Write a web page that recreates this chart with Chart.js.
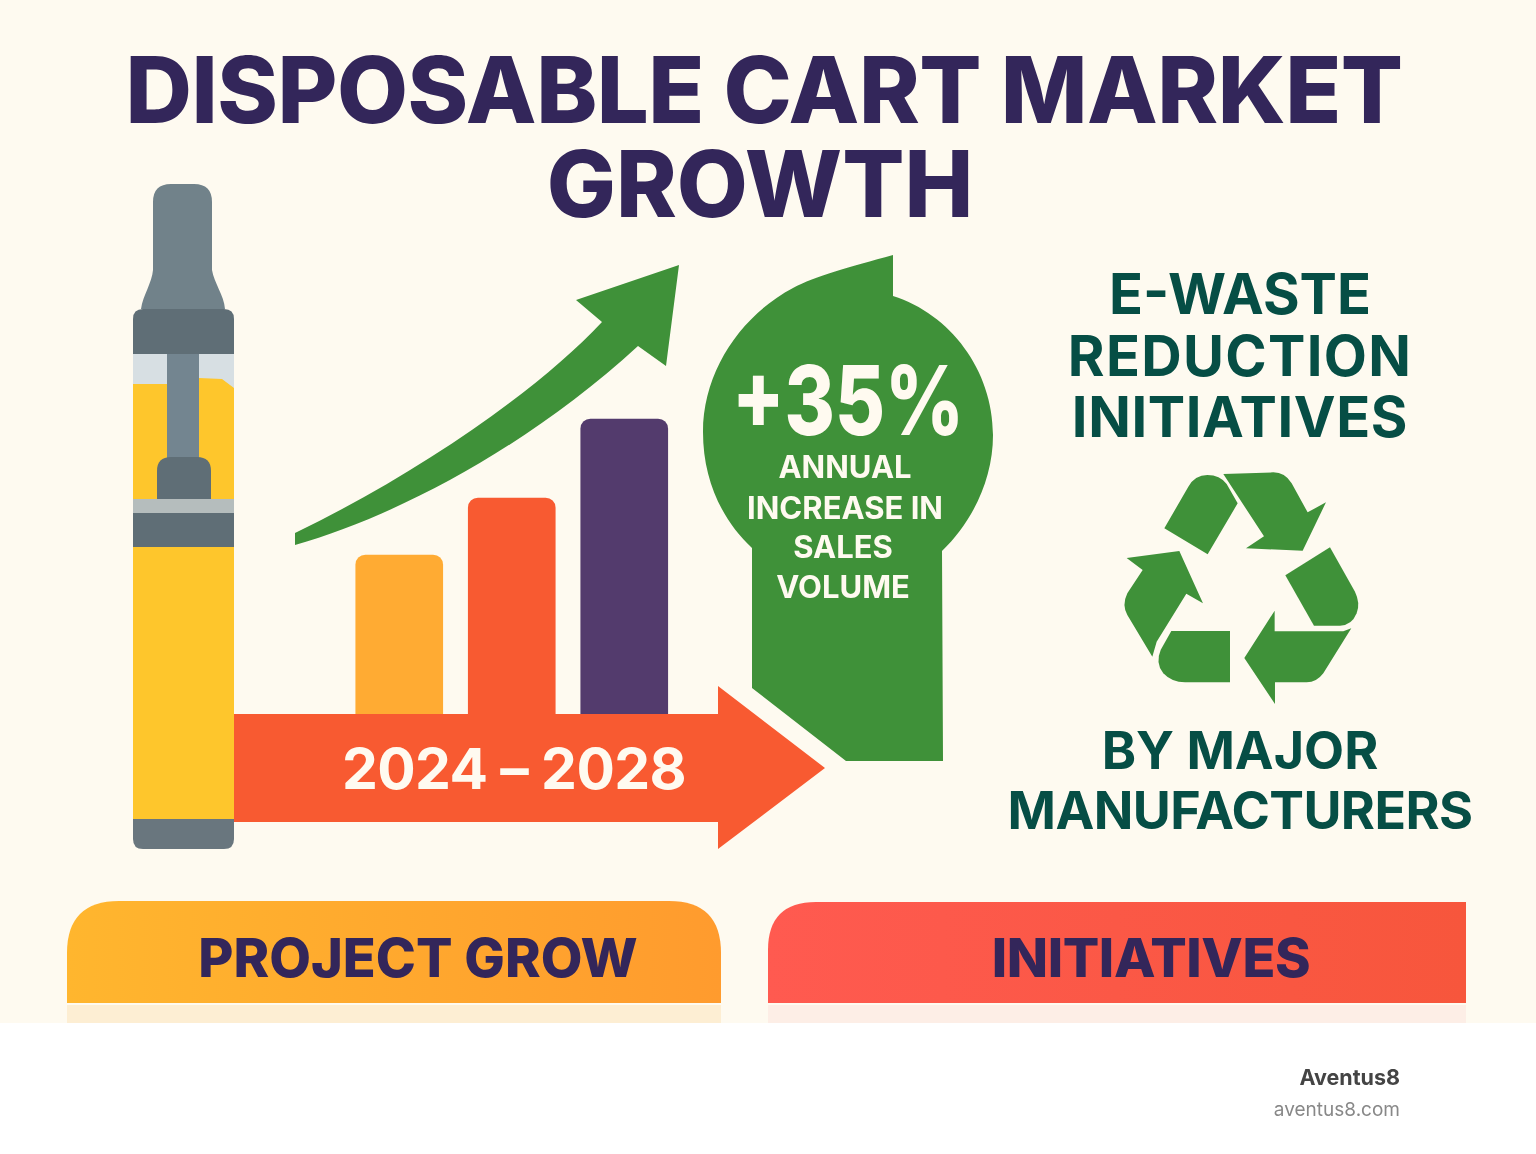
<!DOCTYPE html>
<html>
<head>
<meta charset="utf-8">
<title>Disposable Cart Market Growth</title>
<script src="https://cdn.jsdelivr.net/npm/chart.js@4"></script>
<style>
  html, body { margin: 0; padding: 0; background: #fff; }
  #page { position: relative; width: 1536px; height: 1154px; overflow: hidden; background: #fff; font-family: Inter, sans-serif; }
  #art, #bars { position: absolute; left: 0; top: 0; }
  .t { position: absolute; white-space: nowrap; text-align: center; width: 1000px; line-height: 1; }
  .title { font-size: 92px; font-weight: 800; color: #33265a; width: 1500px; }
  .teal { font-size: 56px; font-weight: 700; color: #064e45; }
  .side { font-size: 31px; font-weight: 700; color: #fffaf0; }
  .panel { font-size: 54px; font-weight: 800; color: #33265a; }
  .foot { left: auto; right: 136px; width: auto; text-align: right; }
</style>
</head>
<body>
<div id="page">
  <svg id="art" width="1536" height="1154" viewBox="0 0 1536 1154">
    <defs>
      <linearGradient id="orange" x1="0" x2="1" y1="0" y2="0"><stop offset="0" stop-color="#ffb62e"/><stop offset="1" stop-color="#ff9b2e"/></linearGradient>
      <linearGradient id="coral" x1="0" x2="1" y1="0" y2="0"><stop offset="0" stop-color="#ff5a50"/><stop offset="1" stop-color="#f7563c"/></linearGradient>
    </defs>
    <rect width="1536" height="1023" fill="#fefaf0"/>

    <!-- cart -->
    <path d="M153,202 Q153,184 171,184 L194,184 Q212,184 212,202 L212,270 C214,283 224,295 225,309 L141,309 C143,295 152,283 153,270 Z" fill="#71828a"/>
    <rect x="133" y="354" width="101" height="470" fill="#fec62c"/>
    <path d="M133,354 L234,354 L234,388 L222,379 L199,378 L167,384 L133,384 Z" fill="#d7dfe3"/>
    <path d="M133,354 L133,319 Q133,309 143,309 L224,309 Q234,309 234,319 L234,354 Z" fill="#5f6e76"/>
    <rect x="167" y="354" width="32" height="104" fill="#738590"/>
    <path d="M157,499 L157,471 Q157,457 171,457 L197,457 Q211,457 211,471 L211,499 Z" fill="#5f6e76"/>
    <rect x="133" y="499" width="101" height="14" fill="#b5bdbd"/>
    <rect x="133" y="513" width="101" height="34" fill="#5f6e76"/>
    <path d="M133,819 L234,819 L234,839 Q234,849 224,849 L143,849 Q133,849 133,839 Z" fill="#69767e"/>

    <!-- timeline arrow -->
    <path d="M234,714 L718,714 L718,686 L825,768 L718,849 L718,822 L234,822 Z" fill="#f85a31"/>

    <!-- growth arrow -->
    <path d="M679,265 L576,300 L602,322 C540,388 425,470 295,533 L295,545 C400,515 530,445 638,346 L666,366 Z" fill="#3f9139"/>

    <!-- callout -->
    <path d="M893,255 L893,296 C950,314 993,370 993,435 C993,480 972,522 942,551 L943,761 L846,761 L752,688 L752,548 C722,520 703,480 703,432 C703,370 742,315 793,288 C815,276 850,267 893,255 Z" fill="#3f9139"/>

    <!-- recycle mark -->
    <g transform="translate(1110,460) scale(0.3333)" fill="#3f9139">
      <path d="M163,205 L293,283 L383,130 L350,72 Q330,45 292,45 Q255,45 235,80 Z"/>
      <path d="M340,42 L490,37 Q525,37 545,70 L593,157 L648,127 L578,272 L408,265 L462,229 Z"/>
      <path d="M660,262 L526,346 L612,497 L690,497 Q725,497 740,460 Q752,430 735,395 Z"/>
      <path d="M724,505 L640,640 Q620,667 590,667 L495,667 L495,732 L403,594 L494,452 L494,514 L700,514 Z"/>
      <path d="M360,513 L184,513 L152,570 Q135,610 160,640 Q185,667 225,667 L360,667 Z"/>
      <path d="M50,294 L208,273 L279,430 L229,401 L140,545 L127,590 L52,465 Q35,435 52,400 L98,330 Z"/>
    </g>

    <!-- bottom panels -->
    <path d="M67,1003 L67,953 Q67,901 119,901 L669,901 Q721,901 721,953 L721,1003 Z" fill="url(#orange)"/>
    <rect x="67" y="1005" width="654" height="18" fill="#fdeed3"/>
    <path d="M768,1003 L768,950 Q768,902 816,902 L1466,902 L1466,1003 Z" fill="url(#coral)"/>
    <rect x="768" y="1005" width="698" height="18" fill="#fdeee6"/>
  </svg>

  <canvas id="bars" width="1536" height="1154"></canvas>

  <div class="t title" style="left:14px;top:44px;letter-spacing:-0.5px">DISPOSABLE CART MARKET</div>
  <div class="t title" style="left:10px;top:138px">GROWTH</div>

  <div class="t" style="left:14px;top:740px;font-size:57px;font-weight:700;letter-spacing:-0.6px;color:#fffaf0">2024 – 2028</div>

  <div class="t" style="left:348px;top:352px;font-size:96px;font-weight:800;color:#fffaf0;transform:scaleX(0.8)">+35%</div>
  <div class="t side" style="left:345px;top:451px">ANNUAL</div>
  <div class="t side" style="left:345px;top:492px">INCREASE IN</div>
  <div class="t side" style="left:343px;top:531px">SALES</div>
  <div class="t side" style="left:343px;top:571px">VOLUME</div>

  <div class="t teal" style="left:740px;top:266px">E-WASTE</div>
  <div class="t teal" style="left:740px;top:328px;letter-spacing:1.3px">REDUCTION</div>
  <div class="t teal" style="left:740px;top:389px;letter-spacing:0.6px">INITIATIVES</div>
  <div class="t teal" style="left:740px;top:725px;font-size:52px">BY MAJOR</div>
  <div class="t teal" style="left:740px;top:785px;font-size:52px;letter-spacing:-0.6px">MANUFACTURERS</div>

  <div class="t panel" style="left:-82px;top:931px">PROJECT GROW</div>
  <div class="t panel" style="left:651px;top:931px;letter-spacing:-0.4px">INITIATIVES</div>

  <div class="t foot" style="top:1067px;font-size:21.5px;font-weight:700;color:#444">Aventus8</div>
  <div class="t foot" style="top:1100px;font-size:19px;font-weight:400;color:#888">aventus8.com</div>
</div>

<script>
const years = ['2024', '2026', '2028'];
const salesVolume = [159, 216, 295];
const barColors = ['#ffab33', '#f85a31', '#533b6d'];

new Chart(document.getElementById('bars'), {
  type: 'bar',
  data: {
    labels: years,
    datasets: [{
      data: salesVolume,
      backgroundColor: barColors,
      borderWidth: 0,
      barThickness: 87,
      borderRadius: { topLeft: 10, topRight: 10 },
    }],
  },
  options: {
    responsive: false,
    devicePixelRatio: 1,
    animation: false,
    layout: { padding: { left: 343, right: 855.5, top: 414, bottom: 440 } },
    plugins: { legend: { display: false }, tooltip: { enabled: false } },
    scales: {
      x: { display: false },
      y: { display: false, min: 0, max: 300 },
    },
  },
});
</script>
</body>
</html>
